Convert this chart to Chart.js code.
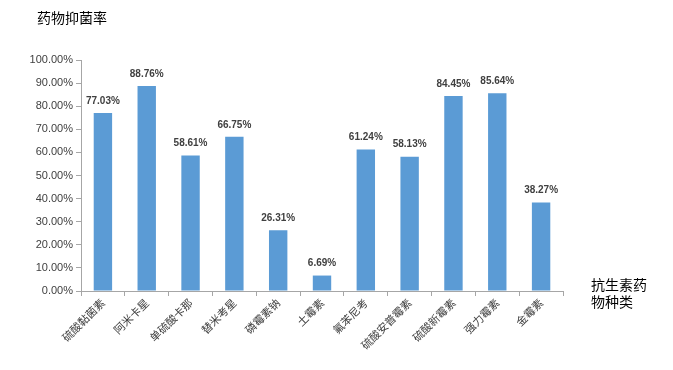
<!DOCTYPE html>
<html lang="zh">
  <head>
    <meta charset="UTF-8" />
    <title>药物抑菌率</title>
    <script src="https://cdn.jsdelivr.net/npm/chart.js"></script>
    <style>
      html, body { margin: 0; padding: 0; background: #fff; }
      #wrap { width: 673px; height: 370px; position: relative; }
    </style>
  </head>
  <body>
    <div id="wrap"><canvas id="barChart"></canvas></div>
    <script>
      // 抗生素药物种类
      var categories = [
        "硫酸黏菌素", "阿米卡星", "单硫酸卡那", "替米考星", "磷霉素钠", "土霉素",
        "氟苯尼考", "硫酸安普霉素", "硫酸新霉素", "强力霉素", "金霉素"
      ];
      // 抑菌率 (%)
      var rates = [77.03, 88.76, 58.61, 66.75, 26.31, 6.69, 61.24, 58.13, 84.45, 85.64, 38.27];
      var yTicks = [0, 10, 20, 30, 40, 50, 60, 70, 80, 90, 100];

      var textFont = "'Noto Sans CJK SC', 'Noto Sans', sans-serif";

      // 柱顶数值 + 标题
      var labelPlugin = {
        id: "labels",
        afterDatasetsDraw: function (chart) {
          var ctx = chart.ctx;
          var meta = chart.getDatasetMeta(0);
          ctx.save();
          ctx.fillStyle = "#404040";
          ctx.font = "bold 10px 'Liberation Sans', Arial, sans-serif";
          ctx.textAlign = "center";
          ctx.textBaseline = "bottom";
          meta.data.forEach(function (bar, i) {
            ctx.fillText(rates[i].toFixed(2) + "%", bar.x, bar.y - 7);
          });
          ctx.fillStyle = "#000";
          ctx.font = "14px " + textFont;
          ctx.textAlign = "left";
          ctx.textBaseline = "middle";
          ctx.fillText("药物抑菌率", 37, 18);
          ctx.fillText("抗生素药", 591, 285);
          ctx.fillText("物种类", 591, 302);
          ctx.restore();
        },
      };

      var canvas = document.getElementById("barChart").getContext("2d");
      new Chart(canvas, {
        type: "bar",
        data: {
          labels: categories,
          datasets: [
            {
              data: rates,
              backgroundColor: "#5B9BD5",
              barPercentage: 0.42,
              categoryPercentage: 1.0,
            },
          ],
        },
        options: {
          responsive: true,
          maintainAspectRatio: false,
          animation: false,
          layout: { padding: { top: 60, right: 110, left: 0, bottom: 0 } },
          plugins: { legend: { display: false }, tooltip: { enabled: false } },
          scales: {
            x: {
              offset: true,
              grid: {
                offset: true,
                drawOnChartArea: false,
                tickLength: 5,
                color: "#A6A6A6",
              },
              border: { color: "#A6A6A6" },
              ticks: {
                minRotation: 45,
                maxRotation: 45,
                color: "#404040",
                font: { size: 11, family: textFont },
                padding: 0,
              },
              afterFit: function (scale) { scale.height = 79; },
            },
            y: {
              min: 0,
              max: 100,
              afterBuildTicks: function (scale) {
                scale.ticks = yTicks.map(function (v) { return { value: v }; });
              },
              grid: {
                drawOnChartArea: false,
                tickLength: 5,
                color: "#A6A6A6",
              },
              border: { color: "#A6A6A6" },
              ticks: {
                color: "#404040",
                font: { size: 11, family: "'Liberation Sans', Arial, sans-serif" },
                padding: 3,
                callback: function (v) { return v.toFixed(2) + "%"; },
              },
              afterFit: function (scale) { scale.width = 81; },
            },
          },
        },
        plugins: [labelPlugin],
      });
    </script>
  </body>
</html>
